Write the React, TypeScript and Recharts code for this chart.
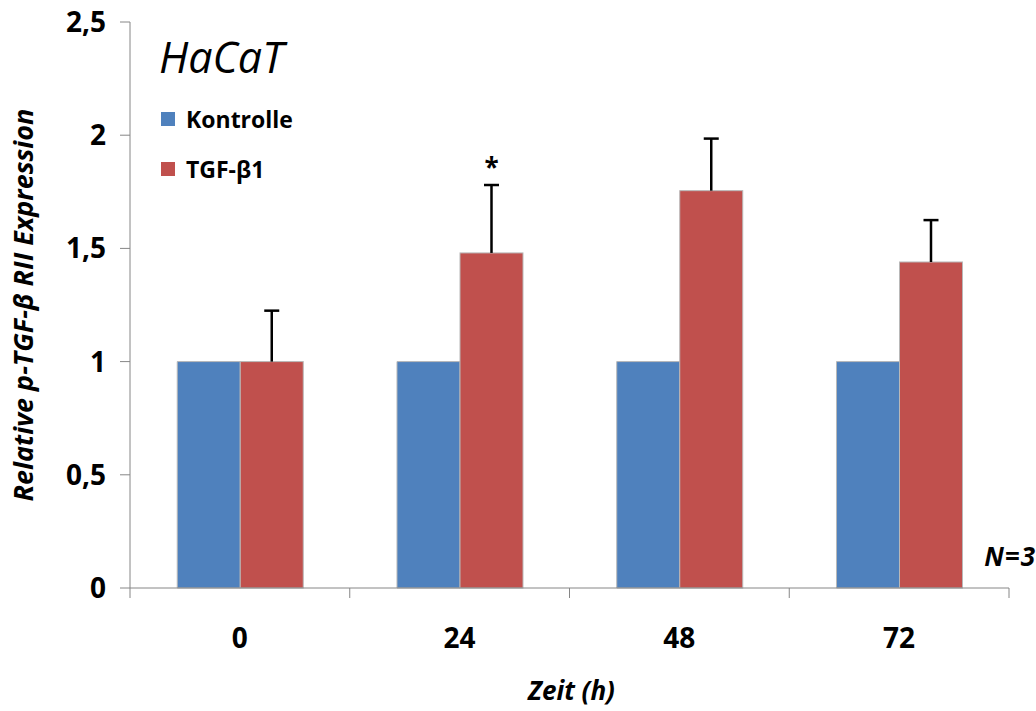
import React from "react";
import { BarChart, Bar, XAxis, YAxis, Label } from "recharts";

const categories = ["0", "24", "48", "72"];
const kontrolle = [1, 1, 1, 1];
const tgfBeta1 = [1.0, 1.48, 1.755, 1.44];
const tgfError = [0.225, 0.3, 0.23, 0.185];
const significance = ["", "*", "", ""];
const yTicks = [0, 0.5, 1, 1.5, 2, 2.5];

const BLUE = "#4F81BD";
const RED = "#C0504D";
const AXIS = "#868686";
const FONT = "'Open Sans', sans-serif";

const legendItems = [
  { label: "Kontrolle", color: BLUE },
  { label: "TGF-β1", color: RED },
];

const data = categories.map((c, i) => ({
  zeit: c,
  kontrolle: kontrolle[i],
  tgf: tgfBeta1[i],
  err: tgfError[i],
  sig: significance[i],
}));

const TICK_MARGIN = 40;

const XTick = (props: any) => {
  const { x, y, payload, index } = props;
  const half = payload.offset ?? 0;
  const axisY = y - TICK_MARGIN;
  return (
    <g>
      <line x1={x - half} x2={x - half} y1={axisY} y2={axisY + 10} stroke={AXIS} />
      {index === categories.length - 1 && (
        <line x1={x + half} x2={x + half} y1={axisY} y2={axisY + 10} stroke={AXIS} />
      )}
      <text x={x} y={y} dy="0.71em" textAnchor="middle" fontFamily={FONT} fontWeight={700} fontSize={28} fill="#000">
        {payload.value}
      </text>
    </g>
  );
};

const ErrorBarShape = (props: any) => {
  const { x, y, width, height, fill, payload } = props;
  const perUnit = payload.tgf ? height / payload.tgf : 0;
  const cx = x + width / 2;
  const top = y - payload.err * perUnit;
  return (
    <g>
      <rect x={x} y={y} width={width} height={height} fill={fill} stroke="#b8b8b8" strokeWidth={1} />
      <line x1={cx} x2={cx} y1={y} y2={top} stroke="#000" strokeWidth={2.5} />
      <line x1={cx - 7.5} x2={cx + 7.5} y1={top} y2={top} stroke="#000" strokeWidth={2.5} />
      {payload.sig && (
        <text x={cx} y={top - 8} textAnchor="middle" fontFamily={FONT} fontWeight={700} fontSize={26} fill="#000">
          {payload.sig}
        </text>
      )}
    </g>
  );
};

export default function App() {
  return (
    <div style={{ position: "absolute", left: 0, top: 0, width: 1036, height: 711, background: "#fff" }}>
      <BarChart
        width={1036}
        height={711}
        data={data}
        margin={{ top: 22, right: 27, left: 0, bottom: 0 }}
        barGap={0}
        barCategoryGap="21.5%"
      >
        <XAxis
          dataKey="zeit"
          height={123}
          tickLine={false}
          tickSize={0}
          tickMargin={TICK_MARGIN}
          stroke={AXIS}
          tick={<XTick />}
        >
          <Label
            content={({ viewBox }: any) => (
              <text
                x={viewBox.x + viewBox.width / 2 + 2}
                y={viewBox.y + 112}
                textAnchor="middle"
                fontFamily={FONT}
                fontWeight={700}
                fontStyle="italic"
                fontSize={26}
                fill="#000"
              >
                Zeit (h)
              </text>
            )}
          />
        </XAxis>
        <YAxis
          width={130}
          domain={[0, 2.5]}
          ticks={yTicks}
          tickSize={10}
          tickMargin={14}
          stroke={AXIS}
          tick={{ fontFamily: FONT, fontWeight: 700, fontSize: 28, fill: "#000" }}
          tickFormatter={(v: number) => String(v).replace(".", ",")}
        >
          <Label
            content={({ viewBox }: any) => {
              const cx = 33;
              const cy = viewBox.y + viewBox.height / 2;
              return (
                <text
                  x={cx}
                  y={cy}
                  transform={`rotate(-90 ${cx} ${cy})`}
                  textAnchor="middle"
                  fontFamily={FONT}
                  fontWeight={700}
                  fontStyle="italic"
                  fontSize={27}
                  fill="#000"
                >
                  Relative p-TGF-β RII Expression
                </text>
              );
            }}
          />
        </YAxis>
        <Bar dataKey="kontrolle" name="Kontrolle" fill={BLUE} stroke="#b8b8b8" strokeWidth={1} isAnimationActive={false} />
        <Bar dataKey="tgf" name="TGF-β1" fill={RED} shape={<ErrorBarShape />} isAnimationActive={false} />
      </BarChart>
      <div
        style={{
          position: "absolute",
          left: 159,
          top: 29,
          fontFamily: FONT,
          fontStyle: "italic",
          fontSize: 43,
          color: "#000",
          lineHeight: "56px",
        }}
      >
        HaCaT
      </div>
      <div
        style={{
          position: "absolute",
          left: 161,
          top: 94,
          fontFamily: FONT,
          fontWeight: 700,
          fontSize: 23,
          color: "#000",
        }}
      >
        {legendItems.map((item) => (
          <div key={item.label} style={{ display: "flex", alignItems: "center", height: 50 }}>
            <span style={{ display: "inline-block", width: 14, height: 14, background: item.color, marginRight: 11 }} />
            <span>{item.label}</span>
          </div>
        ))}
      </div>
      <div
        style={{
          position: "absolute",
          right: 0,
          top: 541,
          fontFamily: FONT,
          fontWeight: 700,
          fontStyle: "italic",
          fontSize: 26,
          letterSpacing: 1,
          color: "#000",
          lineHeight: "30px",
        }}
      >
        N=3
      </div>
    </div>
  );
}
